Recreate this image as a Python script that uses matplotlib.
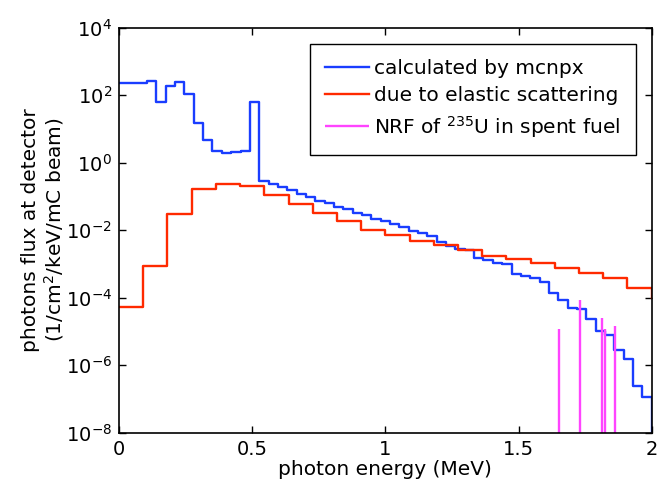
import numpy as np
import matplotlib
matplotlib.use('Agg')
import matplotlib.pyplot as plt

# blue: mcnpx spectrum, 57 equal bins over 0-2 MeV, log10 of flux per bin
mcnpx_edges = np.linspace(0, 2, 58)
mcnpx_log = [2.36, 2.36, 2.36, 2.43, 1.79, 2.28, 2.39, 2.04, 1.18, 0.68,
             0.36, 0.30, 0.33, 0.36, 1.79, -0.55, -0.62, -0.72, -0.82, -0.92,
             -1.02, -1.12, -1.20, -1.30, -1.38, -1.49, -1.56, -1.66, -1.74, -1.83,
             -1.91, -2.01, -2.09, -2.18, -2.35, -2.48, -2.55, -2.58, -2.81, -2.88,
             -2.96, -3.01, -3.30, -3.37, -3.42, -3.54, -3.87, -4.06, -4.30, -4.33,
             -4.63, -4.97, -5.11, -5.54, -5.80, -6.62, -6.94]
mcnpx_end = 0.0

# red: elastic scattering, 22 equal bins
elastic_edges = np.linspace(0, 2, 23)
elastic_log = [-4.28, -3.05, -1.51, -0.77, -0.62, -0.70, -0.97, -1.22, -1.48, -1.74,
               -1.98, -2.15, -2.32, -2.45, -2.60, -2.75, -2.86, -2.97, -3.12, -3.26,
               -3.41, -3.71]
elastic_end = 1e-4

# magenta: NRF lines of U-235
nrf_energy = [1.652, 1.730, 1.813, 1.826, 1.861]
nrf_flux = [1.2e-5, 8.5e-5, 2.6e-5, 1.2e-5, 1.45e-5]

blue_y = list(10.0 ** np.array(mcnpx_log)) + [mcnpx_end]
red_y = list(10.0 ** np.array(elastic_log)) + [elastic_end]

fig = plt.figure(figsize=(6.65, 4.93), dpi=100)
ax = fig.add_axes([0.179, 0.122, 0.801, 0.822])
ax.set_yscale('log', nonpositive='clip')

ax.step(mcnpx_edges, blue_y, where='post', color='#1a3dff', lw=1.7,
        label='calculated by mcnpx')
ax.step(elastic_edges, red_y, where='post', color='#ff2a00', lw=1.7,
        label='due to elastic scattering')
ax.vlines(nrf_energy, 1e-8, nrf_flux, color='#ff44ff', lw=1.7,
          label='NRF of $^{235}$U in spent fuel')

ax.set_xlim(0, 2)
ax.set_ylim(1e-8, 1e4)
ax.set_xticks([0, 0.5, 1, 1.5, 2])
ax.set_xticklabels(['0', '0.5', '1', '1.5', '2'])
ax.set_yticks([1e-8, 1e-6, 1e-4, 1e-2, 1e0, 1e2, 1e4])
ax.minorticks_off()
ax.tick_params(direction='in', top=True, right=True, length=5, width=1,
               labelsize=14, pad=5)
for s in ax.spines.values():
    s.set_linewidth(1.2)

ax.set_xlabel('photon energy (MeV)', fontsize=14.5, labelpad=1)
ax.set_ylabel('photons flux at detector\n(1/cm$^2$/keV/mC beam)', fontsize=14.5,
              labelpad=0, linespacing=1.1)

leg = ax.legend(loc='upper right', fontsize=14.5, handlelength=2.2,
                handletextpad=0.25, borderaxespad=0.8, fancybox=False,
                framealpha=1, edgecolor='black', borderpad=0.75,
                labelspacing=0.42)
leg.get_frame().set_linewidth(1.0)

fig.savefig('out.png', dpi=100)
